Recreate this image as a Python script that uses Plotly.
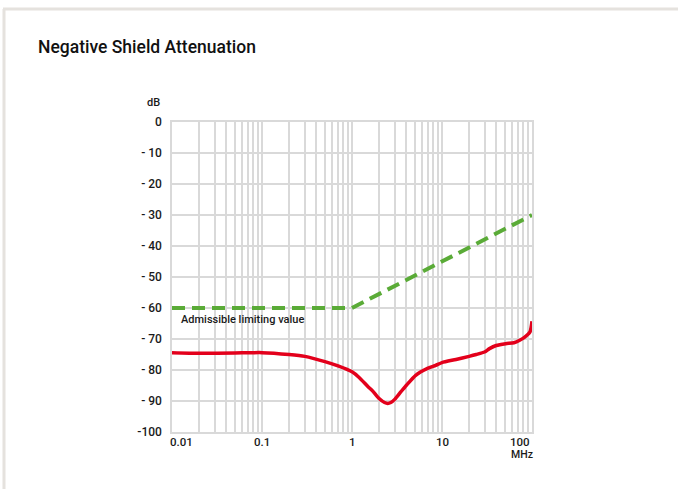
import numpy as np
import plotly.graph_objects as go

# measured curve (MHz, dB)
freq = [0.01, 0.02, 0.05, 0.1, 0.2, 0.3, 0.5, 0.7, 1.0, 1.2, 1.5, 1.7, 2.0, 2.3, 2.5,
        2.7, 3.0, 3.5, 4.0, 5.1, 6.9, 8.5, 10, 14.3, 20, 24, 29.7, 33.7, 40, 51, 63,
        73, 83, 95, 100]
atten = [-74.4, -74.6, -74.5, -74.4, -75.0, -75.6, -77.3, -78.7, -80.6, -82.4, -85.3,
         -86.8, -89.2, -90.5, -90.8, -90.5, -89.4, -87.0, -85.0, -81.7, -79.5, -78.5,
         -77.6, -76.6, -75.6, -75.0, -74.2, -73.1, -72.1, -71.5, -71.2, -70.4, -69.4,
         -67.7, -64.3]

# admissible limiting value
limit_freq = [0.01, 1, 100]
limit_db = [-60, -60, -30]

y_ticks = [0, -10, -20, -30, -40, -50, -60, -70, -80, -90, -100]
y_ticktext = ["0", "- 10", "- 20", "- 30", "- 40", "- 50", "- 60", "- 70", "- 80", "- 90", "-100"]
x_labels = ["0.01", "0.1", "1", "10", "100"]
x_label_vals = [0.01, 0.1, 1, 10, 100]

grid_x = [m * 10.0 ** e for e in range(-2, 2) for m in range(1, 10)] + [100]

W, H = 678, 489
L, R, T, B = 172, 146, 122, 57
PW, PH = W - L - R, H - T - B


def px(x):
    return (x - L) / PW


def py(y):
    return (H - B - y) / PH


FONT = "Roboto"
GRID = "#d9d9d9"
TXT = "#1a1a1a"

fig = go.Figure()

fig.add_trace(go.Scatter(x=limit_freq, y=limit_db, mode="lines",
                         line=dict(color="#5aab37", width=4, dash="13px,7px"),
                         hoverinfo="skip", cliponaxis=False))
fig.add_trace(go.Scatter(x=freq, y=atten, mode="lines",
                         line=dict(color="#e3001b", width=3.5, shape="spline", smoothing=0.6),
                         cliponaxis=False))

fig.update_layout(
    width=W, height=H,
    margin=dict(l=L, r=R, t=T, b=B),
    paper_bgcolor="white", plot_bgcolor="white",
    showlegend=False,
    title=dict(text="Negative Shield Attenuation", xref="container", yref="container",
               x=38 / W, xanchor="left", y=1 - 47 / H, yanchor="middle",
               font=dict(family=FONT, size=17.5, color="#111111", weight=500)),
    font=dict(family=FONT, color=TXT),
)

fig.update_xaxes(type="log", range=[-2, 2], tickvals=grid_x, showticklabels=False,
                 showgrid=True, gridcolor=GRID, gridwidth=1.5, ticks="",
                 showline=True, linecolor=GRID, linewidth=1.5, mirror=True, zeroline=False)
fig.update_yaxes(range=[-100, 0], tickvals=y_ticks, ticktext=y_ticktext,
                 showgrid=True, gridcolor=GRID, gridwidth=1.5, ticks="",
                 ticklabelstandoff=6,
                 tickfont=dict(family=FONT, size=12, color=TXT, weight=500),
                 showline=True, linecolor=GRID, linewidth=1.5, mirror=True, zeroline=False)

# x tick labels
for lbl, v in zip(x_labels, x_label_vals):
    anchor = "left" if v == 0.01 else ("right" if v == 100 else "center")
    shift = -4 if v == 0.01 else 0
    fig.add_annotation(x=np.log10(v), y=py(441.5), xref="x", yref="paper", text=lbl,
                       showarrow=False, xanchor=anchor, yanchor="middle",
                       xshift=shift,
                       font=dict(family=FONT, size=11.5, color=TXT, weight=500))

fig.add_annotation(x=px(522), y=py(454), xref="paper", yref="paper", text="MHz",
                   showarrow=False, xanchor="center", yanchor="middle",
                   font=dict(family=FONT, size=10.5, color=TXT, weight=500))
fig.add_annotation(x=px(153), y=py(102), xref="paper", yref="paper", text="dB",
                   showarrow=False, xanchor="center", yanchor="middle",
                   font=dict(family=FONT, size=11, color=TXT, weight=500))
fig.add_annotation(x=px(179), y=py(319), xref="paper", yref="paper",
                   text="Admissible limiting value",
                   showarrow=False, xanchor="left", yanchor="middle",
                   font=dict(family=FONT, size=11, color=TXT, weight=500))

# card border (top and left)
fig.add_shape(type="line", xref="paper", yref="paper", x0=px(3), x1=px(W), y0=py(9), y1=py(9),
              line=dict(color="#e5e2de", width=3))
fig.add_shape(type="line", xref="paper", yref="paper", x0=px(4), x1=px(4), y0=py(9), y1=py(H),
              line=dict(color="#e5e2de", width=3))

fig.write_html("out.html", config={"displayModeBar": False},
               post_script="document.body.style.margin='0';")
